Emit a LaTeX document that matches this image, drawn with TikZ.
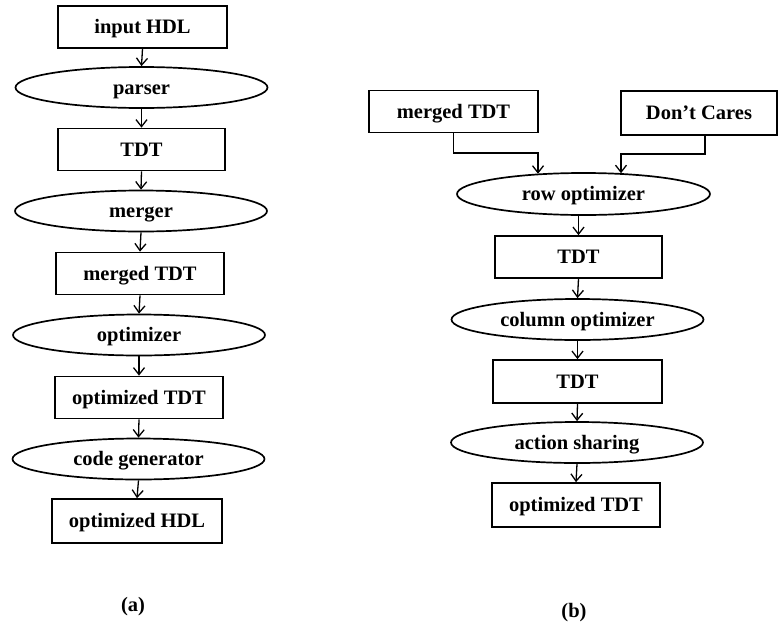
\documentclass[tikz,border=0pt]{standalone}
\usepackage{fontspec}
\setmainfont{Liberation Serif}
\usetikzlibrary{shapes.geometric,arrows.meta}

\tikzset{
  base/.style={draw, line width=1.7pt, font=\fontsize{20.5}{24}\selectfont\bfseries,
    inner sep=0pt, text height=13.6pt, text depth=0pt},
  box/.style={base, rectangle, minimum width=#1, minimum height=42pt},
  proc/.style={base, ellipse, minimum width=252pt, minimum height=41pt},
  arr/.style={line width=1.3pt, -{Straight Barb[length=7pt,width=11pt,line width=1.3pt]}},
  caption/.style={font=\fontsize{20.5}{24}\selectfont\bfseries}
}

\begin{document}
\begin{tikzpicture}[x=1pt, y=-1pt]
  \useasboundingbox (0,0) rectangle (779,627);

  % (a) overall flow
  \node[box=169pt] (inhdl)   at (142.5,27)  {input HDL};
  \node[proc]      (parser)  at (141.5,87.5) {parser};
  \node[box=167pt] (tdta)    at (141.5,149.5) {TDT};
  \node[proc]      (merger)  at (141,211)   {merger};
  \node[box=168pt] (mtdta)   at (140,273.5) {merged TDT};
  \node[proc]      (opt)     at (139,335)   {optimizer};
  \node[box=168pt] (otdta)   at (139,397.5) {optimized TDT};
  \node[proc]      (codegen) at (138.5,459) {code generator};
  \node[box=170pt, minimum height=44pt] (ohdl) at (137,521) {optimized HDL};

  \draw[arr] (inhdl.south)  -- (parser.north);
  \draw[arr] (parser.south) -- (tdta.north);
  \draw[arr] (tdta.south)   -- (merger.north);
  \draw[arr] (merger.south) -- (mtdta.north);
  \draw[arr] (mtdta.south)  -- (opt.north);
  \draw[arr] (opt.south)    -- (otdta.north);
  \draw[arr] (otdta.south)  -- (codegen.north);
  \draw[arr] (codegen.south) -- (ohdl.north);

  \node[caption] (capa) at (133,607) {(a)};

  % (b) optimizer detail
  \node[box=169pt] (mtdtb)  at (453.5,111.5) {merged TDT};
  \node[box=156pt, minimum height=44pt] (dc) at (699,113) {Don't Cares};
  \node[proc, minimum width=253pt, minimum height=42pt] (rowopt) at (583.5,194) {row optimizer};
  \node[box=167pt] (tdtb1)  at (578.5,257) {TDT};
  \node[proc]      (colopt) at (577.5,319.5) {column optimizer};
  \node[box=169pt, minimum height=43pt] (tdtb2) at (577.5,381.5) {TDT};
  \node[proc]      (share)  at (577,442.5) {action sharing};
  \node[box=168pt, minimum height=44pt] (otdtb) at (576,505) {optimized TDT};

  \coordinate (jl) at (538,153);
  \coordinate (jr) at (621,154);
  \coordinate (dcout) at (705,135);

  \draw[arr] (mtdtb.south) |- (jl) -- (jl |- rowopt.157);
  \draw[arr] (dcout) |- (jr) -- (jr |- rowopt.28);
  \draw[arr] (tdtb1.north |- rowopt.south) -- (tdtb1.north);
  \draw[arr] (tdtb1.south)  -- (colopt.north);
  \draw[arr] (colopt.south) -- (tdtb2.north);
  \draw[arr] (tdtb2.south)  -- (share.north);
  \draw[arr] (share.south)  -- (otdtb.north);

  \node[caption] (capb) at (574,613) {(b)};
\end{tikzpicture}
\end{document}
